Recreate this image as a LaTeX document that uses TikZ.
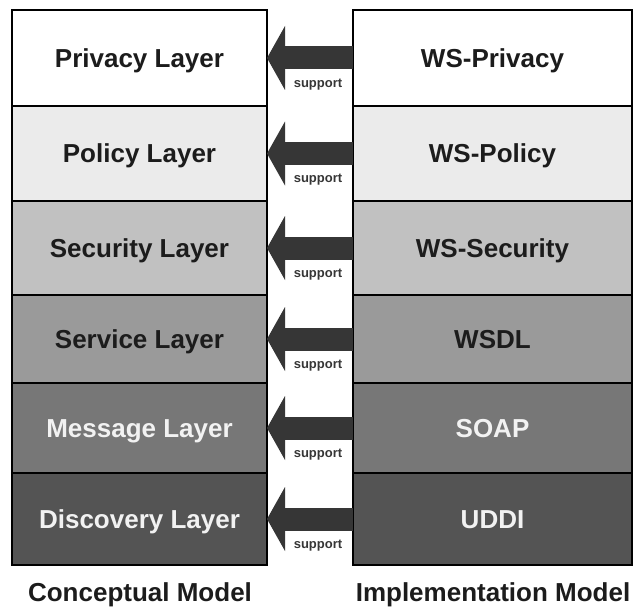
\documentclass[tikz,border=0pt]{standalone}
\usepackage{fontspec}
\setmainfont{Liberation Sans}
\usetikzlibrary{arrows.meta}

\definecolor{ink}{HTML}{1C1C1C}
\definecolor{paleink}{HTML}{F2F2F2}
\definecolor{arrowgray}{HTML}{363636}
\definecolor{shadeA}{HTML}{FFFFFF}
\definecolor{shadeB}{HTML}{EBEBEB}
\definecolor{shadeC}{HTML}{C1C1C1}
\definecolor{shadeD}{HTML}{9A9A9A}
\definecolor{shadeE}{HTML}{777777}
\definecolor{shadeF}{HTML}{545454}

\tikzset{
  cell/.style={draw=black, line width=2pt, rectangle, inner sep=0pt, outer sep=0pt,
    font=\fontsize{26}{30}\selectfont\bfseries, text height=18.6pt, text depth=0pt},
  supportarrow/.style={draw=arrowgray, line width=23pt,
    -{Triangle[length=18pt, width=64pt, line width=0pt]}},
  supportlabel/.style={inner sep=0pt, text=arrowgray,
    font=\fontsize{13}{15}\selectfont\bfseries, text height=6.8pt, text depth=0pt},
  modellabel/.style={inner sep=0pt, anchor=base, text=ink,
    font=\fontsize{26}{30}\selectfont\bfseries}
}

\begin{document}
\begin{tikzpicture}[x=1pt, y=-1pt]
  \useasboundingbox (0,0) rectangle (636,607);
  \fill[white] (0,0) rectangle (636,607);

  % one row per layer: index / top / bottom / fill / text colour / conceptual / implementation
  \foreach \i/\ya/\yb/\shade/\txt/\lt/\rt in {
      1/10/106/shadeA/ink/Privacy Layer/WS-Privacy,
      2/106/201/shadeB/ink/Policy Layer/WS-Policy,
      3/201/295/shadeC/ink/Security Layer/WS-Security,
      4/295/383/shadeD/ink/Service Layer/WSDL,
      5/383/473/shadeE/paleink/Message Layer/SOAP,
      6/473/565/shadeF/paleink/Discovery Layer/UDDI}
  {
    \pgfmathsetmacro{\h}{\yb-\ya}
    \pgfmathsetmacro{\c}{(\ya+\yb)/2}
    \node[cell, fill=\shade, text=\txt, minimum width=255pt, minimum height=\h pt]
      (L\i) at (139.5,\c) {\lt};
    \node[cell, fill=\shade, text=\txt, minimum width=279pt, minimum height=\h pt]
      (R\i) at (492.5,\c) {\rt};
    \draw[supportarrow] (R\i.west) -- (L\i.east);
    \node[supportlabel] (S\i) at (318,\c+26) {support};
  }

  \node[modellabel] (conceptual) at (140,601) {Conceptual Model};
  \node[modellabel] (implementation) at (493,601) {Implementation Model};
\end{tikzpicture}
\end{document}
